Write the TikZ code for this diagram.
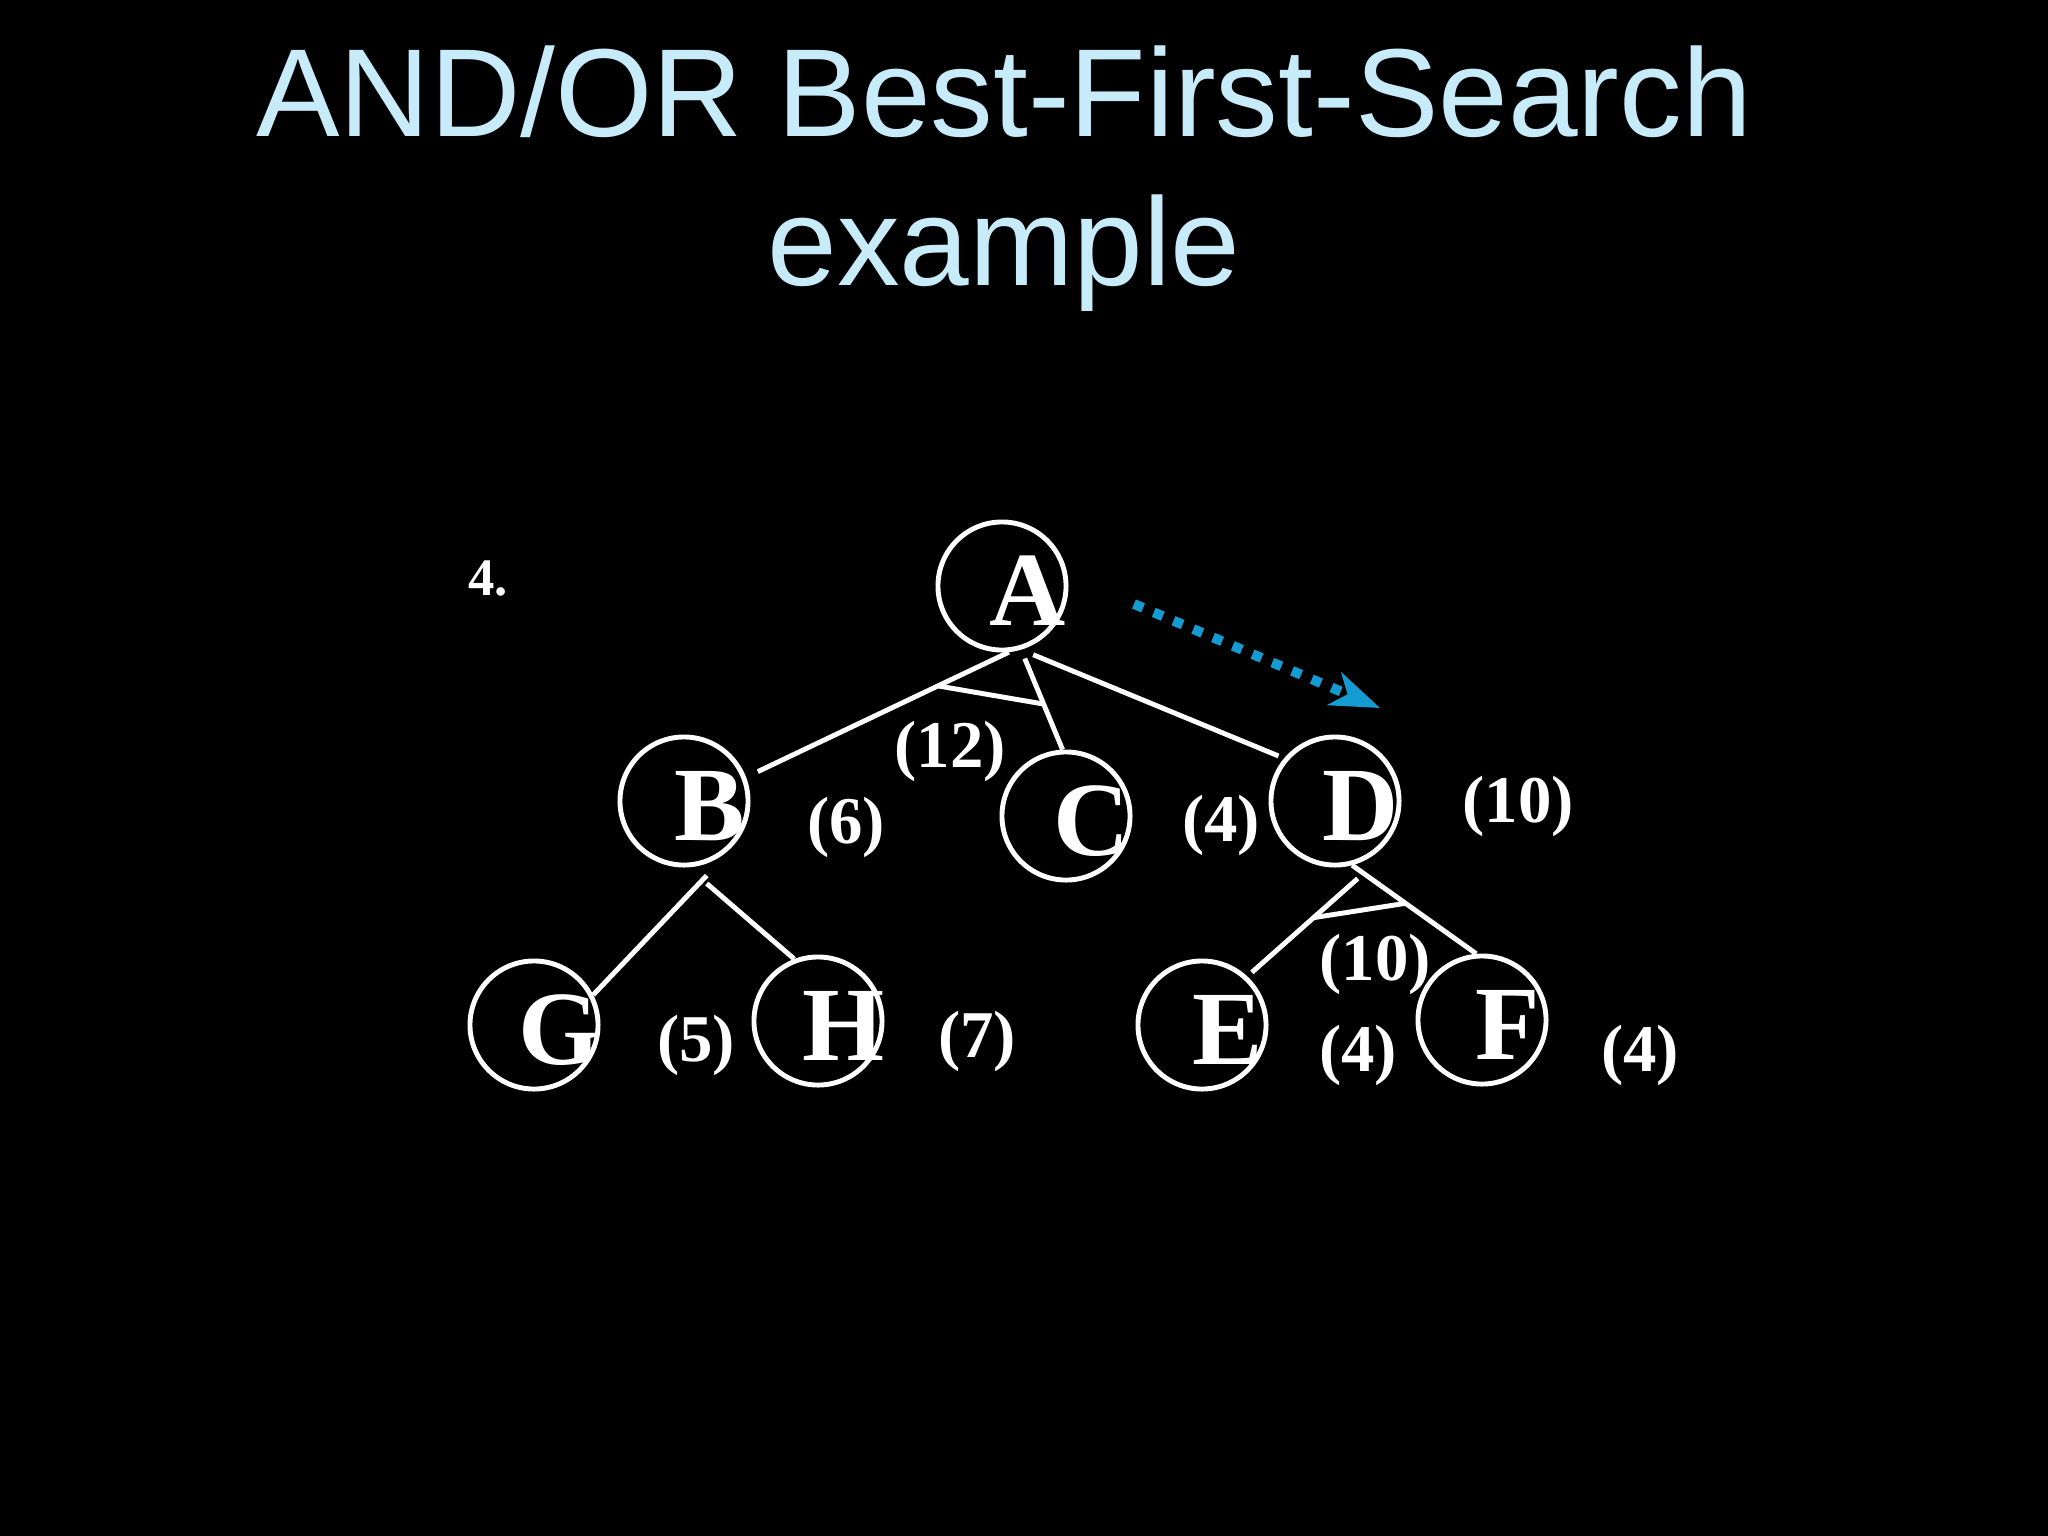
\documentclass[tikz,border=0pt]{standalone}
\usepackage{fontspec}
\setmainfont{Liberation Serif}
\newfontfamily\titlefont{Liberation Sans}
\usetikzlibrary{arrows.meta,calc}
\definecolor{titleblue}{RGB}{200,235,250}
\definecolor{pathblue}{RGB}{20,155,210}
\newcommand\colorBack{black}
\newcommand\colorTitle{titleblue}
\newcommand\colorTree{white}
\newcommand\colorPath{pathblue}
\newcommand\vertexSize{1.28cm}
\tikzset{
	vertex/.style={circle, draw=\colorTree, line width=1.4pt, minimum size=\vertexSize, inner sep=0pt},
	letter/.style={text=\colorTree, font=\fontsize{30}{30}\selectfont\bfseries, xshift=0.26cm, yshift=-0.05cm},
	cost/.style={text=\colorTree, font=\fontsize{19}{19}\selectfont\bfseries},
	edge/.style={draw=\colorTree, line width=1.4pt},
	titleline/.style={text=\colorTitle, font=\titlefont\fontsize{35.6}{35.6}\selectfont, anchor=base}
}

\begin{document}
\begin{tikzpicture}[x=0.01cm, y=-0.01cm]
	\fill[\colorBack] (0,0) rectangle (2048,1536);
	\useasboundingbox (0,0) rectangle (2048,1536);
	
	\node[titleline] (title) at (1004,136) {AND/OR Best-First-Search};
	\node[titleline] (subtitle) at (1004,285) {example};
	
	\node[cost, font=\fontsize{15}{15}\selectfont\bfseries] (stepNo) at (488,579) {4.};
	
	\foreach \name/\x/\y in {A/1002/586, B/684/801, C/1066/816, D/1335/801, G/534/1025, H/818/1021, E/1202/1025, F/1482/1020}{
		\node[vertex, label={[letter]center:\name}] (\name) at (\x,\y) {};
	}
	
	\draw[edge, shorten >=0.13cm] (A.-84) to (B.21);
	\draw[edge] ([yshift=-0.1cm]A.-70) to (C.93);
	\draw[edge, shorten >=0.06cm] ([yshift=-0.1cm]A.-62) to (D.140);
	\draw[edge] ($(A.-84)!0.27!(B.21)$) to ($([yshift=-0.1cm]A.-70)!0.5!(C.93)$);
	
	\draw[edge] ([yshift=-0.12cm]B.-70) to (G.27);
	\draw[edge] ([yshift=-0.2cm]B.-70) to (H.111);
	
	\draw[edge, shorten >=0.06cm] ([yshift=-0.15cm]D.-70) to (E.47);
	\draw[edge] (D.-75) to (F.95);
	\draw[edge] ($([yshift=-0.15cm]D.-70)!0.4!(E.47)$) to ($(D.-75)!0.43!(F.95)$);
	
	\foreach \name/\x/\y/\val in {costA/950/751/12, costB/846/827/6, costC/1221/825/4, costD/1518/806/10, costG/696/1045/5, costH/977/1041/7, costAnd/1375/964/10, costE/1358/1055/4, costF/1640/1055/4}{
		\node[cost] (\name) at (\x,\y) {(\val)};
	}
	
	\coordinate (pathStart) at (1134,604);
	\coordinate (pathEnd) at (1380,708);
	\draw[\colorPath, line width=2.8pt, dash pattern=on 2.8pt off 3.3pt, -{Stealth[length=14pt, width=10pt, inset=4pt]}] (pathStart) to (pathEnd);
\end{tikzpicture}
\end{document}
